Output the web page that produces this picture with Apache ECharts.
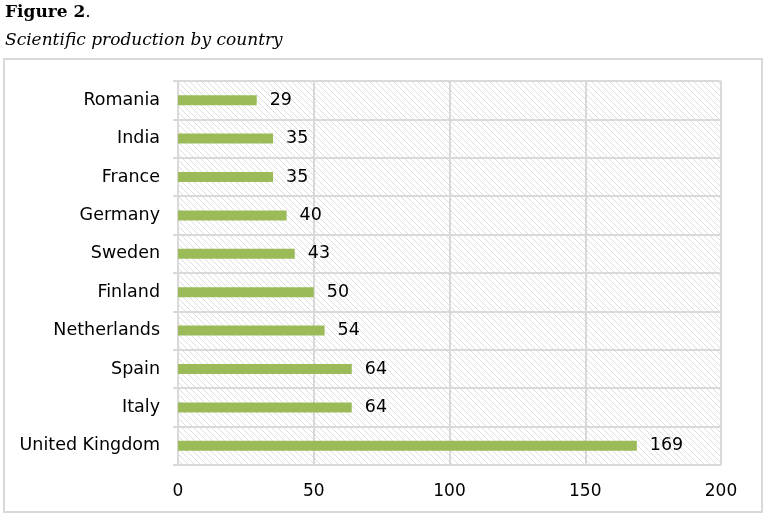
<!DOCTYPE html>
<html><head><meta charset="utf-8">
<script src="https://cdn.jsdelivr.net/npm/echarts@6/dist/echarts.min.js"></script>
<style>html,body{margin:0;padding:0;background:#fff}#c{width:766px;height:516px}</style>
</head><body><div id="c"></div>
<script>
const countries = ['United Kingdom','Italy','Spain','Netherlands','Finland','Sweden','Germany','France','India','Romania'];
const publications = [169,64,64,54,50,43,40,35,35,29];
const xTicks = [0,50,100,150,200];

const pc = document.createElement('canvas');
pc.width = 6; pc.height = 6;
const g = pc.getContext('2d');
g.fillStyle = '#ffffff'; g.fillRect(0,0,6,6);
g.fillStyle = '#dedede';
for (let i = 0; i < 6; i++) { g.fillRect(i, i, 1, 1); }

const chart = echarts.init(document.getElementById('c'));
const F = 'DejaVu Sans';
chart.setOption({
  animation:false,
  graphic:[
    {type:'text', left:5, top:4, style:{text:'{b|Figure 2}{n|.}', rich:{
      b:{fontFamily:'DejaVu Serif', fontWeight:'bold', fontSize:17, fill:'#000'},
      n:{fontFamily:'DejaVu Serif', fontWeight:'normal', fontSize:17, fill:'#000'}}}},
    {type:'text', left:5, top:32, style:{text:'Scientific production by country', fontFamily:'DejaVu Serif', fontStyle:'italic', fontSize:17, fill:'#000'}},
    {type:'rect', shape:{x:4,y:59,width:758,height:453}, style:{fill:null, stroke:'#d9d9d9', lineWidth:2}, z:-1}
  ],
  grid:{left:178, right:45, top:81, bottom:51, show:true, backgroundColor:{image:pc, repeat:'repeat'}, borderWidth:0},
  xAxis:{type:'value', min:0, max:200, interval:50,
    axisLine:{show:false}, axisTick:{show:false},
    splitLine:{show:true, lineStyle:{color:'#d9d9d9', width:2}},
    axisLabel:{color:'#000', fontFamily:F, fontSize:17, margin:18,
      formatter:v => xTicks.includes(v) ? String(v) : ''}},
  yAxis:{type:'category', data:countries,
    axisLine:{show:true, lineStyle:{color:'#d9d9d9', width:2}},
    axisTick:{show:true, length:5, lineStyle:{color:'#d9d9d9', width:2}},
    splitLine:{show:true, lineStyle:{color:'#d9d9d9', width:2}},
    axisLabel:{color:'#000', fontFamily:F, fontSize:17.5, margin:18}},
  series:[{type:'bar', data:publications, barWidth:10,
    itemStyle:{color:'#9bbb59'},
    label:{show:true, position:'right', distance:13, color:'#000', fontFamily:F, fontSize:17.5}}]
});
</script></body></html>
